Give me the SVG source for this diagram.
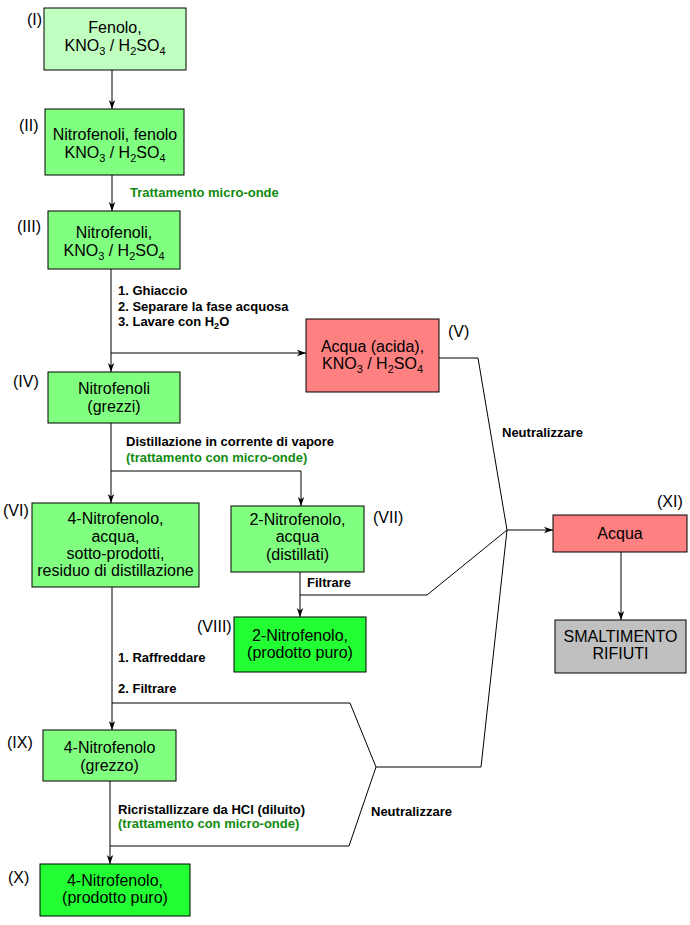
<svg xmlns="http://www.w3.org/2000/svg" width="690" height="925" viewBox="0 0 690 925">
<style>
.box{stroke:#000;stroke-width:1}
.l1{fill:#c0ffc0}.l2{fill:#80ff80}.l3{fill:#22ff33}.red{fill:#ff8080}.grey{fill:#c0c0c0}
.t{font-family:"Liberation Sans",Arial,sans-serif;font-size:16px;fill:#000;text-anchor:middle}
.n{font-family:"Liberation Sans",Arial,sans-serif;font-size:16px;fill:#000}
.b{font-family:"Liberation Sans",Arial,sans-serif;font-size:13px;font-weight:bold;fill:#000}
.g{fill:#118a11}
.sub{font-size:11px}
.bsub{font-size:9px}
.c{fill:none;stroke:#000;stroke-width:1}
</style>
<defs>
<marker id="arr" markerUnits="userSpaceOnUse" markerWidth="10" markerHeight="8" refX="9" refY="4" orient="auto">
<path d="M0,0.8 L9,4 L0,7.2 L2.5,4 z" fill="#000"/>
</marker>
</defs>
<rect width="690" height="925" fill="#fff"/>
<g id="connectors">
<line class="c" x1="112" y1="70" x2="112" y2="109" marker-end="url(#arr)"/>
<line class="c" x1="112" y1="175" x2="112" y2="211" marker-end="url(#arr)"/>
<line class="c" x1="111" y1="269" x2="111" y2="372" marker-end="url(#arr)"/>
<line class="c" x1="111" y1="353" x2="306" y2="353" marker-end="url(#arr)"/>
<polyline class="c" points="439,358 478,358 507,530"/>
<line class="c" x1="507" y1="530" x2="553" y2="530" marker-end="url(#arr)"/>
<line class="c" x1="111" y1="423" x2="111" y2="503" marker-end="url(#arr)"/>
<polyline class="c" points="111,471 301,471 301,506" marker-end="url(#arr)"/>
<line class="c" x1="300" y1="572" x2="300" y2="617" marker-end="url(#arr)"/>
<polyline class="c" points="300,595 427,595 507,530"/>
<line class="c" x1="112" y1="587" x2="112" y2="730" marker-end="url(#arr)"/>
<polyline class="c" points="112,703 350,703 376,767 481,767 507,530"/>
<line class="c" x1="110" y1="781" x2="110" y2="864" marker-end="url(#arr)"/>
<polyline class="c" points="110,846 349,846 376,767"/>
<line class="c" x1="621" y1="552" x2="621" y2="620" marker-end="url(#arr)"/>
</g>
<g id="labels">
<text class="b g" x="130" y="197">Trattamento micro-onde</text>
<text class="b" x="118" y="295">1. Ghiaccio</text>
<text class="b" x="118" y="311">2. Separare la fase acquosa</text>
<text class="b" x="118" y="326">3. Lavare con H<tspan class="bsub" dy="3">2</tspan><tspan dy="-3">O</tspan></text>
<text class="b" x="126" y="446">Distillazione in corrente di vapore</text>
<text class="b g" x="126" y="462">(trattamento con micro-onde)</text>
<text class="b" x="502" y="437">Neutralizzare</text>
<text class="b" x="307" y="587">Filtrare</text>
<text class="b" x="118" y="662">1. Raffreddare</text>
<text class="b" x="118" y="693">2. Filtrare</text>
<text class="b" x="118" y="814">Ricristallizzare da HCl (diluito)</text>
<text class="b g" x="118" y="828">(trattamento con micro-onde)</text>
<text class="b" x="371" y="816">Neutralizzare</text>
</g>
<g id="n1">
<rect class="box l1" x="44" y="8" width="142" height="62"/>
<text class="t" x="115" y="33">Fenolo,</text>
<text class="t" x="115" y="51">KNO<tspan class="sub" dy="4">3</tspan><tspan dy="-4"> / H</tspan><tspan class="sub" dy="4">2</tspan><tspan dy="-4">SO</tspan><tspan class="sub" dy="4">4</tspan></text>
<text class="n" x="27" y="25">(I)</text>
</g>
<g id="n2">
<rect class="box l2" x="45" y="109" width="139" height="66"/>
<text class="t" x="115" y="140">Nitrofenoli, fenolo</text>
<text class="t" x="115" y="158">KNO<tspan class="sub" dy="4">3</tspan><tspan dy="-4"> / H</tspan><tspan class="sub" dy="4">2</tspan><tspan dy="-4">SO</tspan><tspan class="sub" dy="4">4</tspan></text>
<text class="n" x="19" y="131">(II)</text>
</g>
<g id="n3">
<rect class="box l2" x="48" y="211" width="132" height="58"/>
<text class="t" x="114" y="238">Nitrofenoli,</text>
<text class="t" x="114" y="256">KNO<tspan class="sub" dy="4">3</tspan><tspan dy="-4"> / H</tspan><tspan class="sub" dy="4">2</tspan><tspan dy="-4">SO</tspan><tspan class="sub" dy="4">4</tspan></text>
<text class="n" x="17" y="232">(III)</text>
</g>
<g id="n4">
<rect class="box l2" x="48" y="372" width="132" height="51"/>
<text class="t" x="114" y="394">Nitrofenoli</text>
<text class="t" x="114" y="412">(grezzi)</text>
<text class="n" x="13" y="387">(IV)</text>
</g>
<g id="n5">
<rect class="box red" x="306" y="319" width="133" height="73"/>
<text class="t" x="372.5" y="352">Acqua (acida),</text>
<text class="t" x="372.5" y="369">KNO<tspan class="sub" dy="4">3</tspan><tspan dy="-4"> / H</tspan><tspan class="sub" dy="4">2</tspan><tspan dy="-4">SO</tspan><tspan class="sub" dy="4">4</tspan></text>
<text class="n" x="448" y="337">(V)</text>
</g>
<g id="n6">
<rect class="box l2" x="32" y="503" width="167" height="84"/>
<text class="t" x="115.5" y="524">4-Nitrofenolo,</text>
<text class="t" x="115.5" y="542">acqua,</text>
<text class="t" x="115.5" y="559">sotto-prodotti,</text>
<text class="t" x="115.5" y="576">residuo di distillazione</text>
<text class="n" x="3" y="516">(VI)</text>
</g>
<g id="n7">
<rect class="box l2" x="231" y="506" width="133" height="66"/>
<text class="t" x="297.5" y="525">2-Nitrofenolo,</text>
<text class="t" x="297.5" y="542">acqua</text>
<text class="t" x="297.5" y="560">(distillati)</text>
<text class="n" x="373" y="523">(VII)</text>
</g>
<g id="n8">
<rect class="box l3" x="234" y="617" width="132" height="55"/>
<text class="t" x="300" y="641">2-Nitrofenolo,</text>
<text class="t" x="300" y="658">(prodotto puro)</text>
<text class="n" x="197" y="632">(VIII)</text>
</g>
<g id="n9">
<rect class="box l2" x="43" y="730" width="133" height="51"/>
<text class="t" x="109.5" y="753">4-Nitrofenolo</text>
<text class="t" x="109.5" y="771">(grezzo)</text>
<text class="n" x="7" y="748">(IX)</text>
</g>
<g id="n10">
<rect class="box l3" x="40" y="864" width="150" height="52"/>
<text class="t" x="115" y="886">4-Nitrofenolo,</text>
<text class="t" x="115" y="903">(prodotto puro)</text>
<text class="n" x="8" y="883">(X)</text>
</g>
<g id="n11">
<rect class="box red" x="553" y="515" width="134" height="37"/>
<text class="t" x="620" y="539">Acqua</text>
<text class="n" x="657" y="507">(XI)</text>
</g>
<g id="n12">
<rect class="box grey" x="555" y="620" width="131" height="53"/>
<text class="t" x="620.5" y="642">SMALTIMENTO</text>
<text class="t" x="620.5" y="659">RIFIUTI</text>
</g>
</svg>
